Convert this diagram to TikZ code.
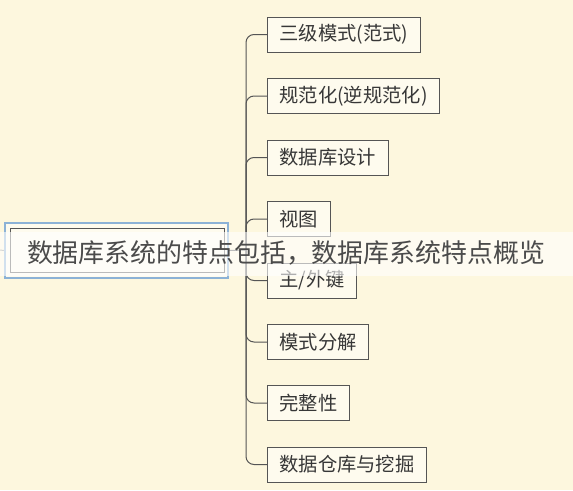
\documentclass[tikz,border=0pt]{standalone}
\usepackage{fontspec}
\setmainfont{Noto Sans CJK SC}
\usetikzlibrary{positioning}
\definecolor{paper}{RGB}{253,247,222}
\definecolor{boxfill}{RGB}{254,251,238}
\definecolor{boxline}{RGB}{85,85,85}
\definecolor{rootblue}{RGB}{140,178,214}
\definecolor{ink}{RGB}{55,55,55}
\tikzset{
	topic/.style={draw=boxline,line width=0.9pt,fill=boxfill,rectangle,anchor=west,minimum height=35pt,inner xsep=12pt,text=ink,font=\fontsize{19.3}{22}\selectfont},
	rootbox/.style={draw=rootblue,line width=2.2pt,fill=boxfill,rectangle,minimum width=223pt,minimum height=55pt},
	rootinner/.style={draw=boxline,line width=0.9pt,rectangle,minimum width=214pt,minimum height=44pt},
	link/.style={draw=boxline,line width=1pt,rounded corners=8pt},
	band/.style={fill=white,opacity=0.6},
	title/.style={text=ink!90,font=\fontsize{25.9}{30}\selectfont,inner sep=0pt}
}

\begin{document}
\begin{tikzpicture}[x=1pt,y=-1pt]
			\fill[paper] (0,0) rectangle (573,490);
			\useasboundingbox (0,0) rectangle (573,490);
			
			\node[rootbox] (root) at (116.5,250.5) {};
			\node[rootinner] (rootin) at (117,250) {};
			\node[coordinate] (stub) at (0,250) {};
			\node[coordinate] (trunk) at (246,250) {};
			
			\node[topic] (mode) at (267,34.5) {三级模式(范式)};
			\node[topic] (norm) at (267,96) {规范化(逆规范化)};
			\node[topic] (design) at (267,157.5) {数据库设计};
			\node[topic] (view) at (267,219) {视图};
			\node[topic] (keys) at (267,280.5) {主/外键};
			\node[topic] (split) at (267,342) {模式分解};
			\node[topic] (integ) at (267,403) {完整性};
			\node[topic] (mining) at (267,464.5) {数据仓库与挖掘};
			
			\draw[boxline!60,line width=1pt] (stub) -- (root.west);
			\draw[link] (root.east) -- (trunk);
			\foreach \t in {mode,norm,design,view,keys,split,integ,mining}
				\draw[link] (trunk) |- (\t.west);
			
			% banner laid over the picture
			\fill[band] (0,232) rectangle (573,276);
			\node[title] (head) at (286,253) {数据库系统的特点包括，数据库系统特点概览};
		\end{tikzpicture}
\end{document}
